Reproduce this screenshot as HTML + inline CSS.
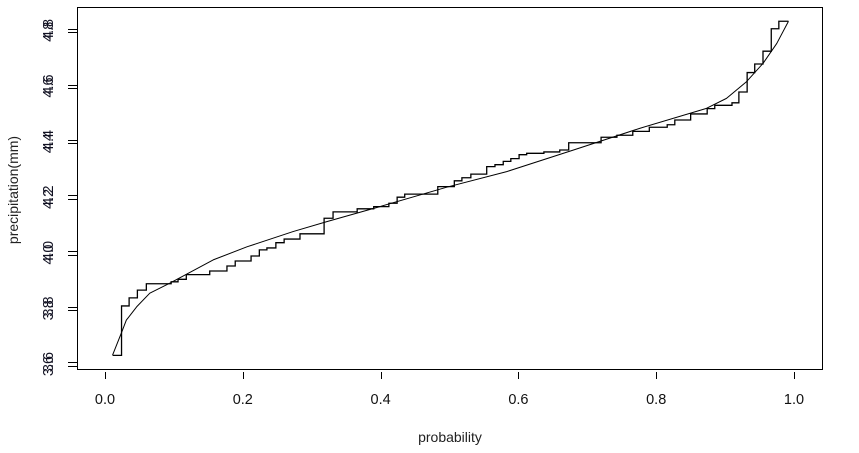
<!DOCTYPE html>
<html><head><meta charset="utf-8"><style>
html,body{margin:0;padding:0;background:#fff;}
svg{display:block;font-family:"Liberation Sans",sans-serif;}
</style></head><body>
<svg id="chart" width="859" height="453" xmlns="http://www.w3.org/2000/svg"></svg>
<script>
// empirical step data: start probability of each step and its value
const stepP = [0.011,0.024,0.035,0.047,0.060,0.096,0.106,0.118,0.152,0.177,0.189,0.212,0.224,0.235,0.248,0.260,0.283,0.318,0.331,0.366,0.39,0.412,0.424,0.435,0.483,0.507,0.518,0.531,0.554,0.566,0.578,0.589,0.601,0.612,0.637,0.660,0.673,0.720,0.743,0.766,0.790,0.816,0.827,0.850,0.874,0.885,0.910,0.920,0.932,0.943,0.955,0.967,0.978];
const stepV = [3.624,3.802,3.831,3.859,3.882,3.889,3.898,3.915,3.928,3.946,3.964,3.982,4.004,4.011,4.030,4.043,4.062,4.118,4.141,4.152,4.160,4.172,4.194,4.205,4.232,4.253,4.264,4.277,4.304,4.311,4.323,4.333,4.347,4.352,4.357,4.364,4.390,4.410,4.417,4.431,4.446,4.455,4.472,4.494,4.513,4.525,4.534,4.573,4.643,4.674,4.720,4.801,4.828];
const stepEnd = 0.992;
// fitted theoretical quantile curve
const curveP = [0.011,0.024,0.031,0.046,0.065,0.094,0.157,0.206,0.273,0.322,0.399,0.496,0.583,0.680,0.776,0.873,0.902,0.931,0.955,0.975,0.992];
const curveV = [3.625,3.706,3.751,3.799,3.848,3.884,3.968,4.015,4.070,4.106,4.160,4.230,4.286,4.364,4.442,4.514,4.550,4.610,4.676,4.748,4.828];
const xTicks = [0,0.2,0.4,0.6,0.8,1.0];
const xTickLabels = ["0.0","0.2","0.4","0.6","0.8","1.0"];
const yTicks = [3.6,3.8,4.0,4.2,4.4,4.6,4.8];
const yTickLabels = ["3.6","3.8","4.0","4.2","4.4","4.6","4.8"];

const NS="http://www.w3.org/2000/svg";
const svg=document.getElementById('chart');
const X=p=>105+p*689;
const Y=v=>362-(v-3.6)*277.5;
const Y2=v=>366-(v-3.6)*278.5;
function mk(t,a){const e=document.createElementNS(NS,t);for(const k in a)e.setAttribute(k,a[k]);svg.appendChild(e);return e;}

const box=mk('rect',{x:77.5,y:7.5,width:745,height:362,fill:'none',stroke:'#000','stroke-width':1});



xTicks.forEach((t,i)=>{
  const l=mk('line',{x1:Math.round(X(t))+0.5,x2:Math.round(X(t))+0.5,y1:372,y2:379,stroke:'#000'});
  
  
  const tx=mk('text',{x:X(t),y:404,'text-anchor':'middle','font-size':14.5,fill:'#111'});
  tx.textContent=xTickLabels[i];
  
  
});
[Y,Y2].forEach((f,k)=>{
  yTicks.forEach((t,i)=>{
    const l=mk('line',{x1:68,x2:77,y1:Math.round(f(t))+0.5,y2:Math.round(f(t))+0.5,stroke:'#000'});
    
    
    const tx=mk('text',{x:0,y:0,'text-anchor':'middle','font-size':14.5,fill:'#112',transform:`translate(53,${f(t)}) rotate(-90)`});
    tx.textContent=yTickLabels[i];
    
    
  });
});
const xt=mk('text',{x:450,y:442,'text-anchor':'middle','font-size':14,fill:'#222'});
xt.textContent='probability';


const yt=mk('text',{x:0,y:0,'text-anchor':'middle','font-size':14,fill:'#222',transform:'translate(18,190) rotate(-90)'});
yt.textContent='precipitation(mm)';



let d='';
stepP.forEach((p,i)=>{
  const x=X(p), y=Y(stepV[i]);
  if(i===0) d+=`M${x},${y}`; else d+=`L${x},${Y(stepV[i-1])}L${x},${y}`;
});
d+=`L${X(stepEnd)},${Y(stepV[stepV.length-1])}`;
const sp=mk('path',{d:d,fill:'none',stroke:'#000','stroke-width':1.3});



const cd=curveP.map((p,i)=>(i?'L':'M')+X(p)+','+Y(curveV[i])).join('');
const cp=mk('path',{d:cd,fill:'none',stroke:'#000','stroke-width':1,'stroke-linejoin':'round'});


</script>
</body></html>
